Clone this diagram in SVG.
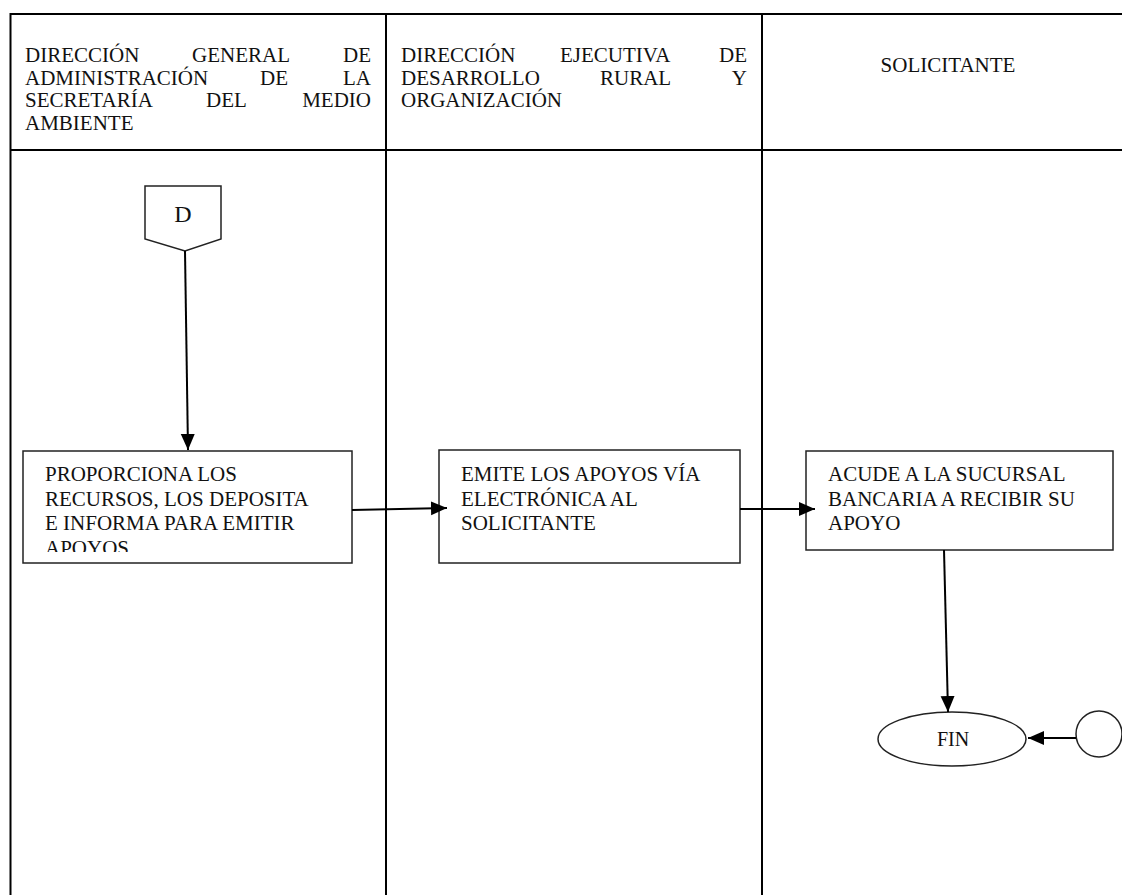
<svg xmlns="http://www.w3.org/2000/svg" width="1122" height="895" viewBox="0 0 1122 895">
  <style>
    .lane { stroke: #000; stroke-width: 2; fill: none; }
    .box { stroke: #222; stroke-width: 1.5; fill: #fff; }
    .edge { stroke: #000; stroke-width: 2; fill: none; }
    text { font-family: "Liberation Serif", "Times New Roman", serif; font-size: 21px; fill: #111; }
    .end { text-anchor: end; }
    .mid { text-anchor: middle; }
  </style>
  <defs>
    <marker id="arrow" markerUnits="userSpaceOnUse" markerWidth="16" markerHeight="16" viewBox="0 0 16 16" refX="16" refY="8" orient="auto">
      <path d="M0,1 L16,8 L0,15 z" fill="#000"/>
    </marker>
    <clipPath id="clip-box1">
      <rect x="24" y="452" width="327" height="100"/>
    </clipPath>
  </defs>

  <!-- swimlane grid -->
  <g id="lanes">
    <line class="lane" x1="10" y1="14" x2="1122" y2="14"/>
    <line class="lane" x1="10" y1="150" x2="1122" y2="150"/>
    <line class="lane" x1="10.5" y1="13" x2="10.5" y2="895"/>
    <line class="lane" x1="386" y1="13" x2="386" y2="895"/>
    <line class="lane" x1="762" y1="13" x2="762" y2="895"/>
  </g>

  <!-- lane headers -->
  <g id="header-dga">
    <text x="25" y="62">DIRECCIÓN</text>
    <text x="192" y="62">GENERAL</text>
    <text class="end" x="371" y="62">DE</text>
    <text x="25" y="84.5">ADMINISTRACIÓN</text>
    <text x="260" y="84.5">DE</text>
    <text class="end" x="371" y="84.5">LA</text>
    <text x="25" y="107">SECRETARÍA</text>
    <text x="206" y="107">DEL</text>
    <text class="end" x="371" y="107">MEDIO</text>
    <text x="25" y="129.5">AMBIENTE</text>
  </g>
  <g id="header-dedro">
    <text x="401" y="62">DIRECCIÓN</text>
    <text x="560" y="62">EJECUTIVA</text>
    <text class="end" x="747" y="62">DE</text>
    <text x="401" y="84.5">DESARROLLO</text>
    <text x="600" y="84.5">RURAL</text>
    <text class="end" x="747" y="84.5">Y</text>
    <text x="401" y="107">ORGANIZACIÓN</text>
  </g>
  <g id="header-solicitante">
    <text class="mid" x="948" y="72">SOLICITANTE</text>
  </g>

  <!-- off-page connector D -->
  <g id="node-d">
    <path class="box" d="M145,186 L221,186 L221,239 L185,251 L145,239 z" stroke-width="2"/>
    <text class="mid" x="183" y="222" style="font-size:24px">D</text>
  </g>

  <g id="node-proporciona">
    <rect class="box" x="23" y="451" width="329" height="112"/>
    <g clip-path="url(#clip-box1)">
      <text x="45" y="481">PROPORCIONA LOS</text>
      <text x="45" y="505.5">RECURSOS, LOS DEPOSITA</text>
      <text x="45" y="530">E INFORMA PARA EMITIR</text>
      <text x="45" y="554.5">APOYOS</text>
    </g>
  </g>

  <g id="node-emite">
    <rect class="box" x="439" y="450" width="301" height="113"/>
    <text x="461" y="481">EMITE LOS APOYOS VÍA</text>
    <text x="461" y="505.5">ELECTRÓNICA AL</text>
    <text x="461" y="530">SOLICITANTE</text>
  </g>

  <g id="node-acude">
    <rect class="box" x="806" y="451" width="307" height="99"/>
    <text x="828" y="481">ACUDE A LA SUCURSAL</text>
    <text x="828" y="505.5">BANCARIA A RECIBIR SU</text>
    <text x="828" y="530">APOYO</text>
  </g>

  <g id="node-fin">
    <ellipse class="box" cx="952" cy="739" rx="74" ry="27"/>
    <text class="mid" x="953" y="746" style="font-size:20px">FIN</text>
  </g>

  <g id="node-connector">
    <circle class="box" cx="1099" cy="734" r="23"/>
  </g>

  <!-- connectors -->
  <g id="connectors">
    <path class="edge" d="M185,251 L188,450" marker-end="url(#arrow)"/>
    <path class="edge" d="M352,510 L447,508" marker-end="url(#arrow)"/>
    <path class="edge" d="M740,509 L815,509" marker-end="url(#arrow)"/>
    <path class="edge" d="M944,550 L948,712" marker-end="url(#arrow)"/>
    <path class="edge" d="M1076,738 L1028,738" marker-end="url(#arrow)"/>
  </g>
</svg>
